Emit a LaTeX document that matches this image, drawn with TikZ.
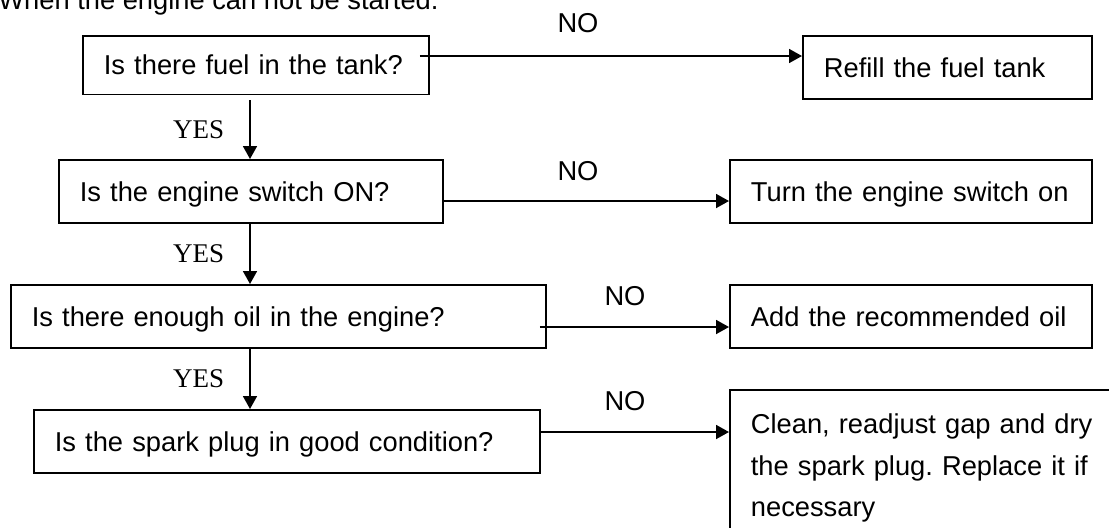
\documentclass[tikz,border=0pt]{standalone}
\usepackage{fontspec}
\setmainfont{Liberation Sans}
\newfontfamily\timesfam{Liberation Serif}
\usepackage{tikz}
\usetikzlibrary{arrows.meta}
\usetikzlibrary{calc}

\newcommand{\flowfont}{\fontsize{13.65pt}{20.75pt}\selectfont}
\newcommand{\yesfont}{\timesfam\fontsize{13.5pt}{16pt}\selectfont}
\frenchspacing

\begin{document}
\begin{tikzpicture}[x=0.5pt,y=-0.5pt,
    box/.style={draw,line width=0.9pt,anchor=north west,inner xsep=10.5pt,align=left,font=\flowfont},
    single/.style={box,inner ysep=0pt,text height=9.8pt,text depth=0pt,minimum height=31.5pt},
    yes/.style={font=\yesfont,inner sep=0pt},
    no/.style={font=\flowfont,inner sep=0pt},
    flow/.style={line width=0.9pt,-{Triangle[length=6.5pt,width=7pt]}}]
    \useasboundingbox (0,0) rectangle (1109,527);
    \clip (0,0) rectangle (1109,527);

    \node[no,anchor=base west] (title) at (-2,9) {When the engine can not be started.};

    \node[single,text width=152pt,minimum height=29.25pt] (q1) at (82,35) {Is there fuel in the tank?};
    \node[single,text width=171pt]   (q2) at (58,159) {Is the engine switch ON?};
    \node[single,text width=246.5pt] (q3) at (10,284) {Is there enough oil in the engine?};
    \node[single,text width=232pt]   (q4) at (33,409) {Is the spark plug in good condition?};

    \node[single,text width=123.5pt] (a1) at (802,35)  {Refill the fuel tank};
    \node[single,text width=160pt]   (a2) at (729,159) {Turn the engine switch on};
    \node[single,text width=160pt]   (a3) at (729,284) {Add the recommended oil};
    \node[box,text width=189pt,inner ysep=12pt] (a4) at (729,389)
        {Clean, readjust gap and dry\\the spark plug. Replace it if\\necessary};

    \coordinate (spine) at (250,0);

    \draw[flow] ([yshift=-2.5pt]spine |- q1.south) -- (spine |- q2.north)
        node[yes,midway,left=12.5pt] (y1) {YES};
    \draw[flow] (spine |- q2.south) -- (spine |- q3.north)
        node[yes,midway,left=12.5pt] (y2) {YES};
    \draw[flow] (spine |- q3.south) -- (spine |- q4.north)
        node[yes,midway,left=12.5pt] (y3) {YES};

    \coordinate (s1) at ([shift={(-10,21)}]q1.north east);
    \coordinate (s2) at ([yshift=-21pt]q2.north east);
    \coordinate (s3) at ([shift={(-7,43)}]q3.north east);
    \coordinate (s4) at ([yshift=-11.5pt]q4.north east);

    \draw[flow] (s1) -- (s1 -| a1.west);
    \draw[flow] (s2) -- (s2 -| a2.west);
    \draw[flow] (s3) -- (s3 -| a3.west);
    \draw[flow] (s4) -- (s4 -| a4.west);

    \node[no] (n1) at (578,23)  {NO};
    \node[no] (n2) at (578,171) {NO};
    \node[no] (n3) at (625,296) {NO};
    \node[no] (n4) at (625,401) {NO};
\end{tikzpicture}
\end{document}
